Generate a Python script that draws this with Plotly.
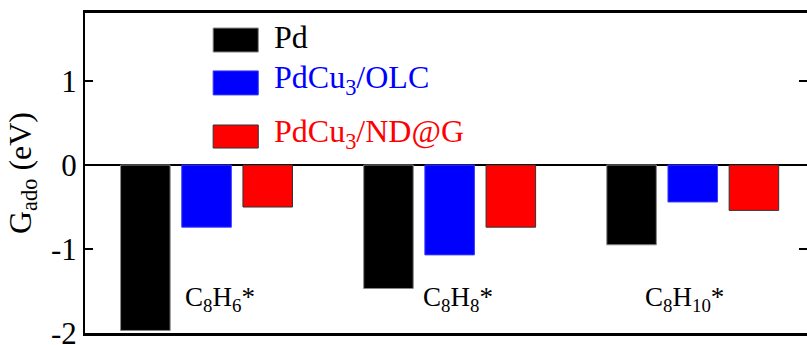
import plotly.graph_objects as go

categories = ["C<sub>8</sub>H<sub>6</sub>*", "C<sub>8</sub>H<sub>8</sub>*", "C<sub>8</sub>H<sub>10</sub>*"]
series_names = ["Pd", "PdCu<sub>3</sub>/OLC", "PdCu<sub>3</sub>/ND@G"]
pd_vals = [-1.97, -1.47, -0.95]
olc_vals = [-0.74, -1.07, -0.44]
ndg_vals = [-0.50, -0.74, -0.54]
colors = ["#000000", "#0000ff", "#ff0000"]
line_colors = ["#888888", "#3a3aff", "#333333"]
ytick_vals = [-2, -1, 0, 1]
ytick_text = ["-2", "-1", "0", "1"]

FONT = "Liberation Serif"

fig = go.Figure()
for name, vals, c, lc in zip(series_names, [pd_vals, olc_vals, ndg_vals], colors, line_colors):
    fig.add_trace(go.Bar(x=categories, y=vals, name=name,
                         marker=dict(color=c, line=dict(color=lc, width=1))))

# manual legend (large swatches)
leg_y = [(0.953, 0.878), (0.819, 0.744), (0.650, 0.578)]
for (y1, y0), name, c, lc in zip(leg_y, series_names, colors, line_colors):
    fig.add_shape(type="rect", xref="paper", yref="paper", x0=0.1775, x1=0.240,
                  y0=y0, y1=y1, fillcolor=c, line=dict(color=lc, width=1))
    fig.add_annotation(xref="paper", yref="paper", x=0.259, y=(y0 + y1) / 2 + 0.01,
                       text=name, showarrow=False, xanchor="left", yanchor="middle",
                       font=dict(family=FONT, size=32, color=c))

# category labels
label_shift = [13, 8, -8]
for cat, sh in zip(categories, label_shift):
    fig.add_annotation(x=cat, y=-1.6, text=cat, showarrow=False, xshift=sh,
                       xanchor="center", yanchor="middle",
                       font=dict(family=FONT, size=27, color="black"))

fig.update_layout(
    width=807, height=345,
    margin=dict(l=85, r=0, t=13, b=12),
    paper_bgcolor="white", plot_bgcolor="white",
    barmode="group", bargap=0.245, bargroupgap=0.19,
    showlegend=False,
    font=dict(family=FONT, color="black"),
    xaxis=dict(type="category", categoryarray=categories, range=[-0.5, 2.47],
               showticklabels=False, ticks="", showgrid=False, zeroline=False,
               showline=True, linecolor="black", linewidth=2.5, mirror=True,
               automargin=False),
    xaxis2=dict(type="category", categoryarray=categories, range=[-0.5, 2.47],
                overlaying="x", anchor="free", position=(0 - (-2)) / (1.81 - (-2)),
                side="bottom", showline=False, showgrid=False, zeroline=False,
                ticks="inside", tickvals=[categories[1]], ticklen=4, tickwidth=1.5,
                tickcolor="black", showticklabels=False, automargin=False),
    yaxis=dict(range=[-2, 1.81], tickvals=ytick_vals, ticktext=ytick_text,
               ticks="inside", ticklen=8, tickwidth=2, tickcolor="black",
               showline=True, linecolor="black", linewidth=2, mirror="ticks",
               showgrid=False, zeroline=True, zerolinecolor="black", zerolinewidth=2,
               ticklabeloverflow="allow", automargin=False,
               tickfont=dict(family=FONT, size=31, color="black"),
               title=dict(text="G<sub>ado</sub> (eV)", standoff=10,
                          font=dict(family=FONT, size=32, color="black"))),
)

fig.write_html("out.html")
